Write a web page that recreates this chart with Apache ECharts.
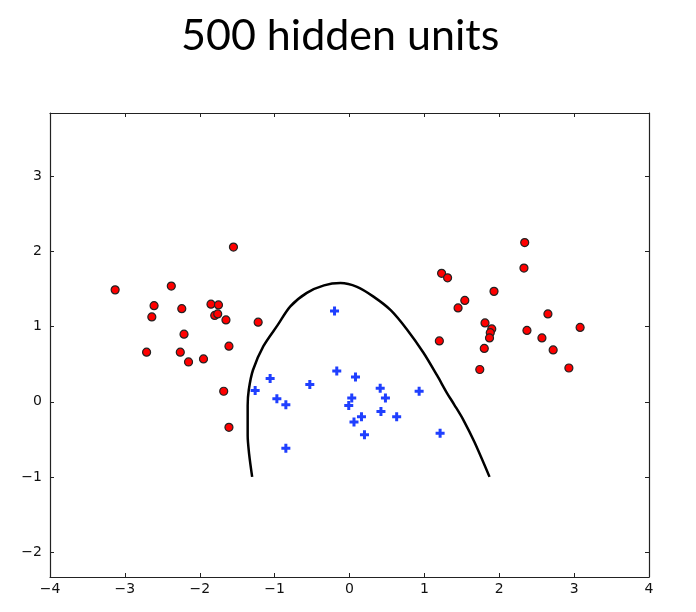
<!DOCTYPE html>
<html>
<head>
<meta charset="utf-8">
<script src="https://cdn.jsdelivr.net/npm/echarts@6/dist/echarts.min.js"></script>
<style>
html, body { margin: 0; padding: 0; background: #fff; }
#main { width: 696px; height: 612px; }
</style>
</head>
<body>
<div id="main"></div>
<script>
var xTicks = [-4, -3, -2, -1, 0, 1, 2, 3, 4];
var yTicks = [-2, -1, 0, 1, 2, 3];

// class 1 (red dots)
var redX = [-3.13, -2.38, -1.55, -2.61, -2.64, -2.24, -1.85, -1.75, -1.80, -1.76,
            -1.65, -1.22, -2.21, -2.71, -2.26, -2.15, -1.95, -1.61, -1.68, -1.61,
            2.34, 2.33, 1.23, 1.31, 1.93, 1.54, 1.45, 2.65, 1.81, 3.08,
            1.90, 2.37, 1.88, 1.87, 1.20, 2.57, 1.80, 2.72, 1.74, 2.93];
var redY = [1.49, 1.54, 2.06, 1.28, 1.13, 1.24, 1.30, 1.29, 1.15, 1.17,
            1.09, 1.06, 0.90, 0.66, 0.66, 0.53, 0.57, 0.74, 0.14, -0.34,
            2.12, 1.78, 1.71, 1.65, 1.47, 1.35, 1.25, 1.17, 1.05, 0.99,
            0.97, 0.95, 0.92, 0.85, 0.81, 0.85, 0.71, 0.69, 0.43, 0.45];

// class 2 (blue crosses)
var blueX = [-0.20, -0.17, 0.08, -1.06, -0.53, -1.26, 0.41, 0.93, -0.97, 0.03,
             0.48, -0.85, -0.01, 0.42, 0.63, 0.16, 0.06, 0.20, 1.21, -0.85];
var blueY = [1.21, 0.41, 0.33, 0.31, 0.23, 0.15, 0.18, 0.14, 0.04, 0.05,
             0.05, -0.04, -0.05, -0.13, -0.20, -0.20, -0.27, -0.44, -0.42, -0.62];

// decision boundary
var curveX = [-1.30, -1.34, -1.36, -1.36, -1.345, -1.29, -1.15, -0.96, -0.79, -0.57,
              -0.34, -0.12, 0.10, 0.32, 0.55, 0.77, 0.99, 1.17, 1.30, 1.40,
              1.52, 1.67, 1.87];
var curveY = [-1.00, -0.70, -0.45, -0.05, 0.16, 0.42, 0.74, 1.02, 1.27, 1.45,
              1.55, 1.58, 1.53, 1.40, 1.22, 0.96, 0.65, 0.35, 0.12, -0.04,
              -0.24, -0.54, -1.00];

var minus = function (v) { return String(v).replace('-', '\u2212'); };

function zip(a, b) {
    var out = [];
    for (var i = 0; i < a.length; i++) out.push([a[i], b[i]]);
    return out;
}

var chart = echarts.init(document.getElementById('main'));

var axisLine = { show: true, onZero: false, lineStyle: { color: '#222', width: 1.2 } };
var tickStyle = { show: true, inside: true, length: 4, lineStyle: { color: '#222', width: 1 } };
var labelStyle = { color: '#111', fontFamily: 'DejaVu Sans', fontSize: 14 };

var option = {
    animation: false,
    backgroundColor: '#fff',
    title: {
        text: '500 hidden units',
        left: 176,
        top: 10,
        textStyle: { fontFamily: 'Lato', fontWeight: 'normal', fontSize: 43, color: '#000' }
    },
    grid: { left: 50, right: 47, top: 113, bottom: 35 },
    xAxis: [{
        type: 'value', min: -4, max: 4, interval: 1,
        axisLine: axisLine, axisTick: tickStyle, splitLine: { show: false },
        axisLabel: Object.assign({ margin: 5, formatter: minus }, labelStyle)
    }, {
        type: 'value', position: 'top', min: -4, max: 4, interval: 1,
        axisLine: axisLine, axisTick: tickStyle, splitLine: { show: false },
        axisLabel: { show: false }
    }],
    yAxis: [{
        type: 'value', min: -2.333, max: 3.845,
        axisLine: axisLine, axisTick: tickStyle, splitLine: { show: false },
        axisLabel: Object.assign({
            margin: 8,
            showMinLabel: false, showMaxLabel: false,
            formatter: function (v) { return yTicks.indexOf(v) >= 0 ? minus(v) : ''; }
        }, labelStyle)
    }, {
        type: 'value', position: 'right', min: -2.333, max: 3.845,
        axisLine: axisLine, axisTick: tickStyle, splitLine: { show: false },
        axisLabel: { show: false }
    }],
    series: [{
        type: 'line',
        data: zip(curveX, curveY),
        smooth: 0.3,
        showSymbol: false,
        lineStyle: { color: '#000', width: 2.5 },
        z: 3
    }, {
        type: 'scatter',
        data: zip(redX, redY),
        symbol: 'circle',
        symbolSize: 8,
        itemStyle: { color: '#ff0000', borderColor: '#222', borderWidth: 1.2, opacity: 1 },
        z: 4
    }, {
        type: 'scatter',
        data: zip(blueX, blueY),
        symbol: 'path://M3,0h3v3h3v3h-3v3h-3v-3h-3v-3h3z',
        symbolSize: 9,
        itemStyle: { color: '#1f3fff', opacity: 1 },
        z: 4
    }]
};

chart.setOption(option);
</script>
</body>
</html>
